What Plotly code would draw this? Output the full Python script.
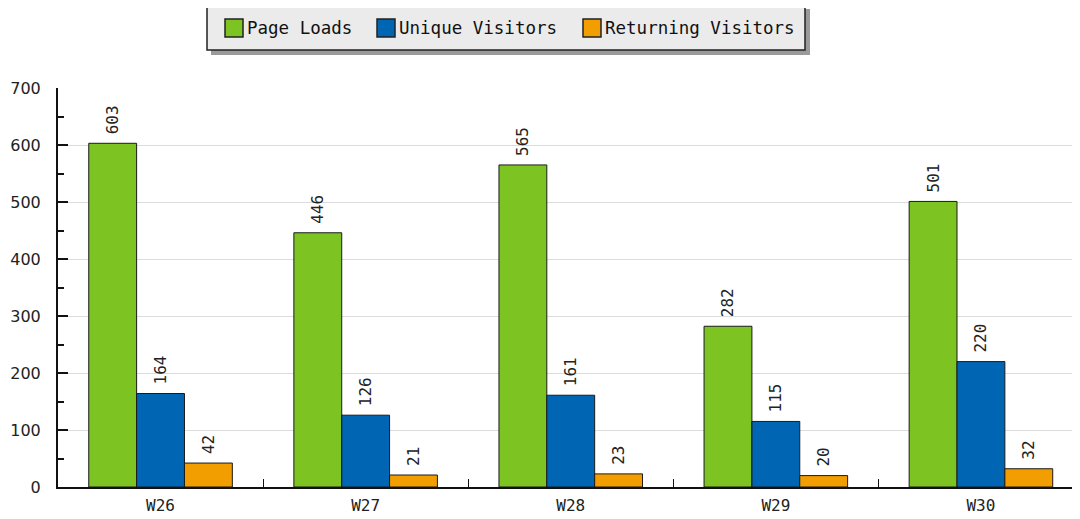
import plotly.graph_objects as go

weeks = ['W26', 'W27', 'W28', 'W29', 'W30']
page_loads = [603, 446, 565, 282, 501]
unique_visitors = [164, 126, 161, 115, 220]
returning_visitors = [42, 21, 23, 20, 32]

# the page body has an 8px margin, so the figure is drawn from (8, 8)
OFF = 8
W, H = 1080 - OFF, 519 - OFF
PLOT_L, PLOT_R, PLOT_T, PLOT_B = 58, 1080, 88, 487


def px_x(sx):
    return (sx - PLOT_L) / (PLOT_R - PLOT_L)


def px_y(sy):
    return (PLOT_B - sy) / (PLOT_B - PLOT_T)


font_mono = 'DejaVu Sans Mono'
series = [
    ('Page Loads', page_loads, '#7dc423'),
    ('Unique Visitors', unique_visitors, '#0066b3'),
    ('Returning Visitors', returning_visitors, '#f29d00'),
]

fig = go.Figure()
for name, vals, color in series:
    fig.add_trace(go.Bar(
        name=name, x=weeks, y=vals,
        marker=dict(color=color, line=dict(color='#1a1a1a', width=1)),
        # small leading nbsp = gap between bar top and rotated label
        texttemplate='<span style="font-size:10px">\u00a0</span>%{y}',
        textposition='outside', textangle=-90,
        textfont=dict(family=font_mono, size=16, color='#222'),
        cliponaxis=False,
    ))

# hand-drawn legend box with drop shadow
fig.add_shape(type='rect', xref='paper', yref='paper',
              x0=px_x(211), x1=px_x(810), y0=px_y(55), y1=px_y(9),
              fillcolor='#9a9a9a', line=dict(width=0))
fig.add_shape(type='rect', xref='paper', yref='paper',
              x0=px_x(207), x1=px_x(805), y0=px_y(50), y1=px_y(5),
              fillcolor='#ebebeb', line=dict(color='#222', width=1.5))
swatch_x = [225, 377, 583]
for (name, vals, color), sx in zip(series, swatch_x):
    fig.add_shape(type='rect', xref='paper', yref='paper',
                  x0=px_x(sx), x1=px_x(sx + 18), y0=px_y(37), y1=px_y(19),
                  fillcolor=color, line=dict(color='#222', width=1.5))
    fig.add_annotation(xref='paper', yref='paper', x=px_x(sx + 20), y=px_y(28),
                       xanchor='left', yanchor='middle', text=name, showarrow=False,
                       font=dict(family=font_mono, size=17.5, color='#111'))

fig.update_layout(
    width=W, height=H,
    margin=dict(l=PLOT_L - OFF, r=0, t=PLOT_T - OFF, b=H - (PLOT_B - OFF)),
    plot_bgcolor='white', paper_bgcolor='white',
    barmode='group', bargap=0.3, bargroupgap=0,
    font=dict(family=font_mono, size=16, color='#222'),
    showlegend=False,
    xaxis=dict(range=[-0.5, 4.483], showline=True, linecolor='#111', linewidth=1.5,
               tickson='boundaries', ticks='inside', ticklen=8, tickcolor='#111',
               showgrid=False, ticklabelstandoff=3, tickfont=dict(family=font_mono, size=16)),
    yaxis=dict(range=[0, 700], dtick=100, showline=True, linecolor='#111', linewidth=2,
               ticks='inside', ticklen=10, tickcolor='#111', tickwidth=1.5,
               gridcolor='#dcdcdc', gridwidth=1, zeroline=False, ticklabelstandoff=12,
               minor=dict(dtick=50, ticks='inside', ticklen=6, tickcolor='#111', showgrid=False),
               tickfont=dict(family='DejaVu Sans', size=16)),
)

fig.write_html('out.html')
